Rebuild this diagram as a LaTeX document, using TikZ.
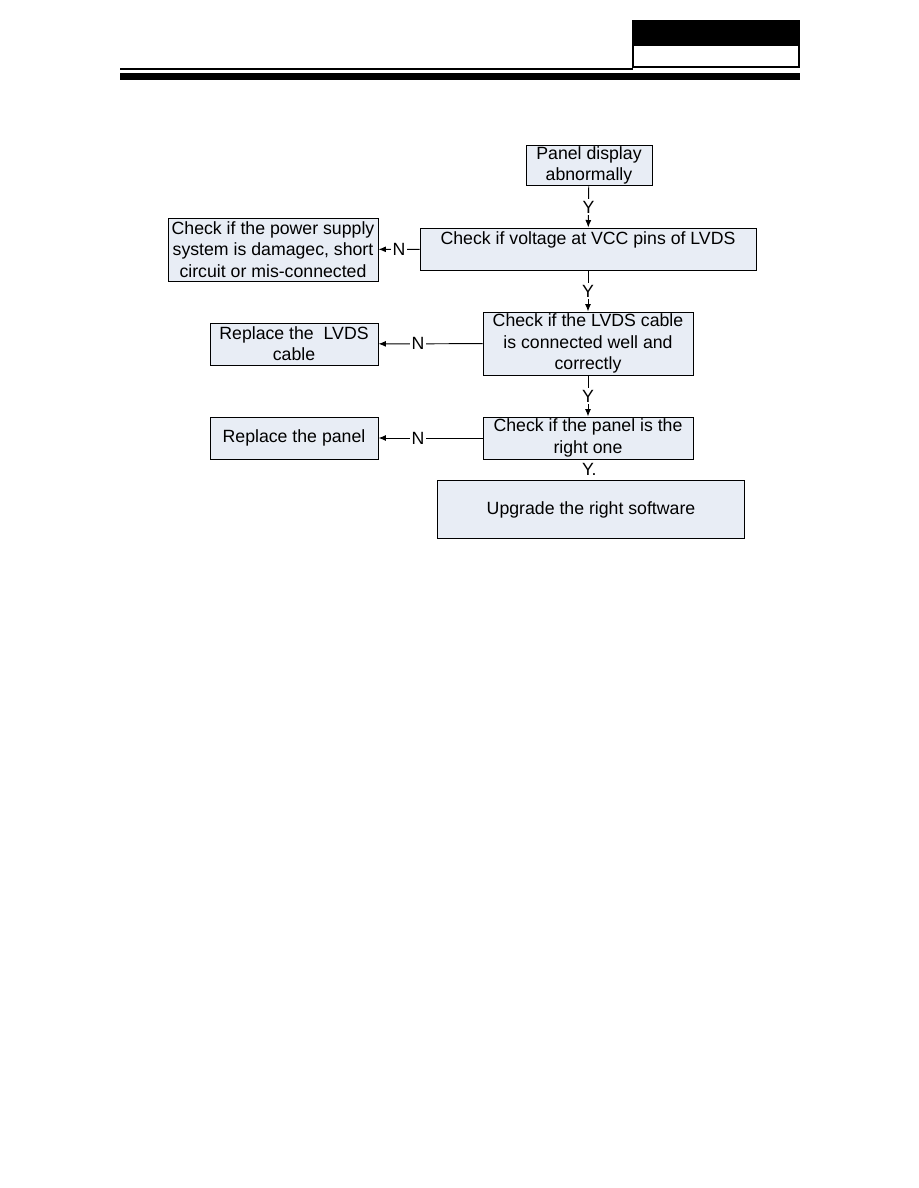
\documentclass[tikz,border=0pt]{standalone}
\usepackage{fontspec}
\setmainfont{Liberation Sans}
\usetikzlibrary{arrows.meta,positioning}
\definecolor{boxfill}{RGB}{232,237,245}

\begin{document}
\begin{tikzpicture}[x=0.6667pt, y=-0.6667pt, line width=0.65pt,
    every node/.style={font=\fontsize{11.8}{14.2}\selectfont},
    box/.style={draw, fill=boxfill, align=center, inner sep=1pt},
    lbl/.style={fill=white, inner sep=1pt},
    >={Latex[length=5pt,width=4pt]}]
    \useasboundingbox (0,0) rectangle (918,1188);

    % page header
    \fill (632,20) rectangle (800,46);
    \draw[line width=1.4pt] (633,45) rectangle (799,67);
    \fill (120,68) rectangle (633,70);
    \fill (120,73) rectangle (800,80);

    \node[box, minimum width=84pt, minimum height=27.3pt] (A) at (589,165.5) {Panel display\\abnormally};
    \node[box, minimum width=224pt, minimum height=28pt, text height=9pt, text depth=15pt] (B) at (588,249) {Check if voltage at VCC pins of LVDS};
    \node[box, minimum width=140pt, minimum height=42pt] (C) at (273,249.5) {Check if the power supply\\system is damagec, short\\circuit or mis-connected};
    \node[box, minimum width=140pt, minimum height=42pt] (D) at (588,343.5) {Check if the LVDS cable\\is connected well and\\correctly};
    \node[box, minimum width=112pt, minimum height=28pt] (E) at (294,344) {Replace the~ LVDS\\cable};
    \node[box, minimum width=140pt, minimum height=28pt] (F) at (588,438) {Check if the panel is the\\right one};
    \node[box, minimum width=112pt, minimum height=28pt] (G) at (294,438) {Replace the panel};
    \node[box, minimum width=205.3pt, minimum height=39.3pt] (H) at (591,509.5) {Upgrade the right software};

    \draw[->] (A) -- node[lbl] {Y} (B);
    \draw[->] (B) -- node[lbl] {Y} (D);
    \draw[->] (D) -- node[lbl] {Y} (F);
    \path (F) -- node[lbl] {Y.} (H);
    \draw[->] (B) -- node[lbl] {N} (C);
    \draw[->] (D) -- node[lbl, pos=0.62] {N} (E);
    \draw[->] (F) -- node[lbl, pos=0.62] {N} (G);
\end{tikzpicture}
\end{document}
